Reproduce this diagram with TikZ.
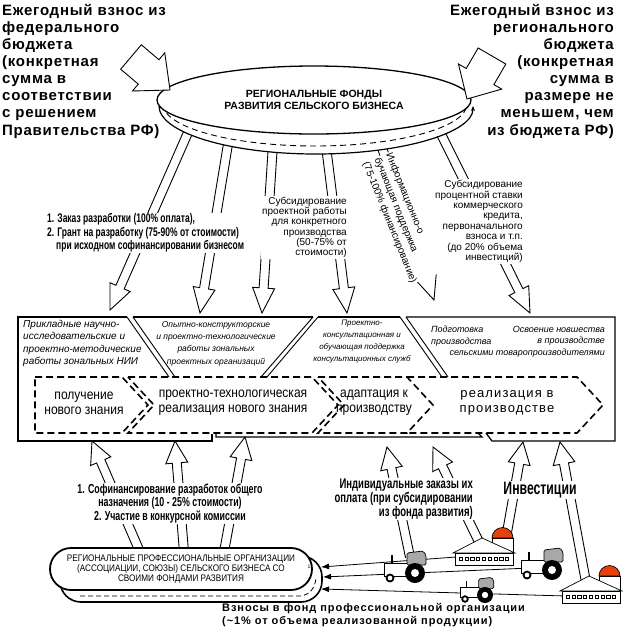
\documentclass[tikz,border=0pt]{standalone}
\usepackage{fontspec}
\setmainfont{Liberation Sans}
\newfontfamily\narrowfont[FakeStretch=0.68]{Liberation Sans}
\newfontfamily\midfont[FakeStretch=0.86]{Liberation Sans}
\newfontfamily\widefont[LetterSpace=8.5]{Liberation Sans}
\newfontfamily\topfont[LetterSpace=5]{Liberation Sans}
\usetikzlibrary{calc,arrows.meta,shapes.geometric}
\definecolor{domered}{HTML}{E5410F}
\definecolor{cabgrey}{HTML}{A8A8A8}

% block arrow from tail #2 to tip #3: shaft half width #4, head half width #5, head length #6
\newcommand\blockarrow[6][]{%
  \draw[arrowline] ($(#2)!#4!-90:(#3)$)
    -- ($(#3)!#6!(#2)!#4!90:(#2)$)
    -- ($(#3)!#6!(#2)!#5!90:(#2)$)
    -- (#3)
    -- ($(#3)!#6!(#2)!#5!-90:(#2)$)
    -- ($(#3)!#6!(#2)!#4!-90:(#2)$)
    -- ($(#2)!#4!90:(#3)$) #1;}
\newcommand\flowarrow[2]{\blockarrow{#1}{#2}{4.5pt}{11pt}{25pt}}

\begin{document}
\begin{tikzpicture}[x=1pt,y=-1pt]
\tikzset{
  arrowline/.style={draw, fill=white, line width=0.9pt, line join=miter},
  frameline/.style={line width=1.3pt},
  sepline/.style={line width=0.9pt},
  chevron/.style={line width=1.6pt, dash pattern=on 7pt off 4pt},
  topnote/.style={font=\topfont\bfseries\fontsize{15}{17.1}\selectfont, inner sep=0pt},
  condnote/.style={font=\narrowfont\bfseries\fontsize{12.5}{13.3}\selectfont, fill=white, inner sep=1pt},
  smallnote/.style={font=\fontsize{10}{10.3}\selectfont, fill=white, inner sep=1pt},
  boxnote/.style={font=\itshape\fontsize{8.5}{12.3}\selectfont, inner sep=0pt},
  stagetext/.style={font=\midfont\fontsize{14}{15}\selectfont, align=center, inner sep=0pt},
  feedline/.style={line width=0.8pt, -{Latex[length=8pt,width=6pt]}},
  tractor/.pic={
    \draw[line width=0.7pt, fill=white] (-31,-10) rectangle (-5,3);
    \draw[line width=1.2pt] (-23,-10) -- (-23,-18);
    \draw[line width=0.7pt, fill=cabgrey, rounded corners=1.5pt] (-8,-8) -- (-8,-20) -- (8,-22) -- (11,-18) -- (11,-8) -- cycle;
    \fill (0,0) circle[radius=10];
    \fill[white] (0,0) circle[radius=4];
    \draw[line width=1.8pt, fill=white] (-25,5) circle[radius=3.5];
  },
  farm/.pic={
    \draw[line width=0.7pt, fill=white] (37,0) rectangle (58,-27);
    \draw[line width=0.7pt, fill=domered] (37,-27) arc[start angle=180, end angle=360, radius=10.5] -- cycle;
    \draw[line width=0.7pt, fill=white] (-2,-12) -- (27,-27) -- (60,-12) -- cycle;
    \draw[line width=0.7pt, fill=white] (0,0) rectangle (58,-12);
    \foreach \w in {0,...,8} \draw[line width=0.5pt] (4+\w*5.8,-7.5) rectangle ++(3.2,3);
  }
}
\useasboundingbox (0,0) rectangle (623,633);

% budget contributions
\node[topnote, anchor=north west, align=left] (fedtext) at (2,4) {Ежегодный взнос из\\федерального\\бюджета\\(конкретная\\сумма в\\соответствии\\с решением\\Правительства РФ)};
\node[topnote, anchor=north east, align=right] (regtext) at (614,4) {Ежегодный взнос из\\регионального\\бюджета\\(конкретная\\сумма в\\размере не\\меньшем, чем\\из бюджета РФ)};

% arrows from the fund down to the stages
\coordinate (ordtail) at (190,128);   \coordinate (ordtip) at (110,310);
\coordinate (granttail) at (229,138); \coordinate (granttip) at (200,313);
\coordinate (designtail) at (273,144); \coordinate (designtip) at (262,313);
\coordinate (projtail) at (326,146);  \coordinate (projtip) at (347,313);
\coordinate (infotail) at (380,142);  \coordinate (infotip) at (434,300);
\coordinate (credtail) at (438,128);  \coordinate (credtip) at (530,313);
\flowarrow{ordtail}{ordtip}
\flowarrow{granttail}{granttip}
\flowarrow{designtail}{designtip}
\flowarrow{projtail}{projtip}
\flowarrow{infotail}{infotip}
\flowarrow{credtail}{credtip}

% the fund
\fill[white] (159,106) arc[start angle=180, end angle=0, x radius=157, y radius=48] -- cycle;
\draw[line width=0.9pt, dash pattern=on 6pt off 4pt] (163,104) arc[start angle=180, end angle=0, x radius=152, y radius=42];
\draw[line width=1.2pt, -{Stealth[length=5pt,width=4pt]}] (159,106) arc[start angle=180, end angle=0, x radius=157, y radius=48];
\node[draw, ellipse, line width=1.3pt, fill=white, minimum width=314pt, minimum height=68pt, align=center, font=\bfseries\fontsize{10.5}{12.5}\selectfont] (fund) at (314,100) {РЕГИОНАЛЬНЫЕ ФОНДЫ\\РАЗВИТИЯ СЕЛЬСКОГО БИЗНЕСА};

\coordinate (fedtail) at (131,57); \coordinate (fedtip) at (170,90);
\coordinate (regtail) at (492,56); \coordinate (regtip) at (467,99);
\blockarrow[-- cycle]{fedtail}{fedtip}{16pt}{25pt}{28pt}
\blockarrow[-- cycle]{regtail}{regtip}{16pt}{25pt}{26pt}

% arrow labels
\node[condnote, anchor=west, align=left] (ordnote) at (46,233) {1. Заказ разработки (100\% оплата),\\2. Грант на разработку (75-90\% от стоимости)\\\hspace*{9pt}при исходном софинансировании бизнесом};
\node[smallnote, anchor=east, align=right] (projnote) at (348,227.5) {Субсидирование\\проектной работы\\для конкретного\\производства\\(50-75\% от\\стоимости)};
\node[smallnote, rotate=-68, align=left, font=\fontsize{10}{12.5}\selectfont] (infonote) at (401,218) {Информационно-о\\бучающая поддержка\\(75-100\% финансирование)};
\node[smallnote, anchor=east, align=right, font=\fontsize{10}{10.4}\selectfont] (crednote) at (524,221.5) {Субсидирование\\процентной ставки\\коммерческого\\кредита,\\первоначального\\взноса и т.п.\\(до 20\% объема\\инвестиций)};

% frame of the stages
\draw[frameline] (127,317) -- (18,317) -- (18,441) -- (212,441) -- (212,434);
\draw[frameline] (216,434) -- (216,437) -- (482,437) -- (478,433);
\draw[frameline] (486,433) -- (492,441) -- (615,441) -- (615,317) -- (406,317);
\draw[frameline] (133,317) -- (313,317);
\draw[frameline] (318,317) -- (400,317);
\draw[sepline] (127,317) -- (169,377);
\draw[sepline] (133,317) -- (175,377);
\draw[sepline] (313,317) -- (261,377);
\draw[sepline] (318,317) -- (267,377);
\draw[sepline] (400,317) -- (442,377);
\draw[sepline] (406,317) -- (448,377);

\node[boxnote, font=\itshape\fontsize{10}{12.3}\selectfont, anchor=west, align=left] (niinote) at (23,343.5) {Прикладные научно-\\исследовательские и\\проектно-методические\\работы зональных НИИ};
\node[boxnote, align=center] (expnote) at (216,343.5) {Опытно-конструкторские\\и проектно-технологические\\работы зональных\\проектных организаций};
\node[boxnote, font=\itshape\fontsize{8}{12}\selectfont, align=center] (consnote) at (362,342) {Проектно-\\консультационная и\\обучающая поддержка\\консультационных служб};
\node[boxnote, font=\itshape\fontsize{9}{11.5}\selectfont, anchor=west, align=left] (prepnote) at (431,336) {Подготовка\\производства};
\node[boxnote, font=\itshape\fontsize{9}{11.5}\selectfont, anchor=east, align=right] (adoptnote) at (605,336) {Освоение новшества\\в производстве};
\node[boxnote, font=\itshape\fontsize{9}{11.5}\selectfont, anchor=east] (farmnote) at (605,353) {сельскими товаропроизводителями};

% stages
\draw[chevron] (35,377) -- (122,377) -- (148,405) -- (122,433) -- (35,433) -- cycle;
\draw[chevron] (128,377) -- (312,377) -- (338,405) -- (312,433) -- (128,433) -- (154,405) -- cycle;
\draw[chevron] (318,377) -- (407,377) -- (433,405) -- (407,433) -- (318,433) -- (344,405) -- cycle;
\draw[chevron] (407,377) -- (577,377) -- (603,405) -- (577,433) -- (407,433);
\node[stagetext] (stage1) at (84,403) {получение\\нового знания};
\node[stagetext] (stage2) at (233,403) {проектно-технологическая\\реализация нового знания};
\node[stagetext] (stage3) at (374,403) {адаптация к\\производству};
\node[stagetext, font=\widefont\fontsize{13}{15}\selectfont] (stage4) at (507,403) {реализация в\\производстве};

% arrows up to the stages
\coordinate (cofinAtail) at (140,552); \coordinate (cofinAtip) at (92,441);
\coordinate (cofinBtail) at (184,552); \coordinate (cofinBtip) at (175,441);
\coordinate (cofinCtail) at (224,552); \coordinate (cofinCtip) at (245,437);
\coordinate (ordAtail) at (410,557);   \coordinate (ordAtip) at (387,447);
\coordinate (ordBtail) at (481,546);   \coordinate (ordBtip) at (433,447);
\coordinate (invAtail) at (506,538);   \coordinate (invAtip) at (523,442);
\coordinate (invBtail) at (586,582);   \coordinate (invBtip) at (560,442);
\blockarrow{cofinAtail}{cofinAtip}{4.5pt}{11pt}{22pt}
\blockarrow{cofinBtail}{cofinBtip}{4.5pt}{11pt}{22pt}
\blockarrow{cofinCtail}{cofinCtip}{4.5pt}{11pt}{22pt}
\blockarrow{ordAtail}{ordAtip}{4.5pt}{11pt}{22pt}
\blockarrow{ordBtail}{ordBtip}{4.5pt}{11pt}{22pt}
\blockarrow{invAtail}{invAtip}{4.5pt}{11pt}{22pt}
\blockarrow{invBtail}{invBtip}{4.5pt}{11pt}{22pt}

\node[condnote, align=center, font=\narrowfont\bfseries\fontsize{13}{13.5}\selectfont] (cofinnote) at (170,503.5) {1. Софинансирование разработок общего\\назначения (10 - 25\% стоимости)\\2. Участие в конкурсной комиссии};
\node[condnote, anchor=east, align=right, font=\narrowfont\bfseries\fontsize{14}{14}\selectfont] (indnote) at (474,499) {Индивидуальные заказы их\\оплата (при субсидировании\\из фонда развития)};
\node[condnote, font=\narrowfont\bfseries\fontsize{18}{18}\selectfont] (invnote) at (540,490) {Инвестиции};

% contributions of the producers
\coordinate (barnAout) at (456,557);  \coordinate (inA) at (321,567);
\coordinate (tractBout) at (530,568); \coordinate (inB) at (323,577);
\coordinate (barnBout) at (566,596);  \coordinate (inC) at (321,589);
\draw[feedline] (barnAout) -- (inA);
\draw[feedline] (tractBout) -- (inB);
\draw[feedline] (barnBout) -- (inC);

\pic (barnA) at (455,565) {farm};
\pic (tractB) at (552,570) {tractor};
\pic (tractA) at (415,573) {tractor};
\pic (barnB) at (562,603) {farm};
\pic[scale=0.8] (tractC) at (485,595) {tractor};

% professional organisations
\draw[line width=1.6pt, fill=white, rounded corners=21pt] (60,556) rectangle (322,602);
\draw[line width=0.8pt, dash pattern=on 5pt off 3pt] (80,596) -- (300,596) .. controls (310,595) and (315,588) .. (316,578);
\node[draw, line width=1.8pt, fill=white, rounded corners=21pt, minimum width=262pt, minimum height=42pt, align=center, font=\midfont\fontsize{9.5}{10}\selectfont] (assoc) at (181,569) {РЕГИОНАЛЬНЫЕ ПРОФЕССИОНАЛЬНЫЕ ОРГАНИЗАЦИИ\\(АССОЦИАЦИИ, СОЮЗЫ) СЕЛЬСКОГО БИЗНЕСА СО\\СВОИМИ ФОНДАМИ РАЗВИТИЯ};
\node[font=\fontsize{5}{5}\selectfont, inner sep=0pt] (strayone) at (309,567) {1};

\node[anchor=north west, align=left, inner sep=0pt, font=\widefont\bfseries\fontsize{11}{13}\selectfont] (feenote) at (222,603) {Взносы в фонд профессиональной организации\\(\textasciitilde1\% от объема реализованной продукции)};
\end{tikzpicture}
\end{document}
